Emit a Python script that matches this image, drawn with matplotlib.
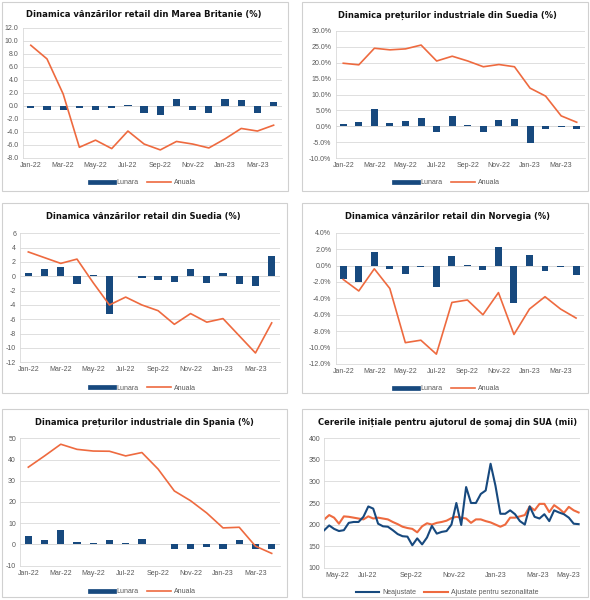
import matplotlib
matplotlib.use("Agg")
import matplotlib.pyplot as plt
from matplotlib.patches import Rectangle
from matplotlib.ticker import FuncFormatter
import numpy as np
import pandas as pd

plt.rcParams['axes.unicode_minus'] = False
plt.rcParams['font.family'] = ['Liberation Sans', 'DejaVu Sans']

# ---------------- data ----------------
months = ["Jan-22", "Feb-22", "Mar-22", "Apr-22", "May-22", "Jun-22", "Jul-22", "Aug-22",
          "Sep-22", "Oct-22", "Nov-22", "Dec-22", "Jan-23", "Feb-23", "Mar-23", "Apr-23"]

uk_monthly = [-0.3, -0.6, -0.7, -0.4, -0.6, -0.3, 0.05, -1.2, -1.4, 1.1, -0.7, -1.1, 1.0, 0.9, -1.1, 0.5]
uk_annual = [9.3, 7.2, 1.8, -6.4, -5.3, -6.6, -3.9, -5.9, -6.8, -5.5, -5.9, -6.5, -5.1, -3.5, -3.9, -3.0]

se_ppi_monthly = [0.7, 1.3, 5.5, 1.1, 1.8, 2.5, -1.6, 3.3, 0.4, -1.6, 2.1, 2.2, -5.3, -0.9, -0.2, -0.8]
se_ppi_annual = [19.8, 19.3, 24.5, 24.0, 24.3, 25.5, 20.5, 22.0, 20.5, 18.7, 19.4, 18.7, 12.0, 9.5, 3.3, 1.3]

se_ret_monthly = [0.4, 1.0, 1.3, -1.1, 0.2, -5.3, 0.0, -0.3, -0.5, -0.8, 1.0, -0.9, 0.4, -1.1, -1.4, 2.8]
se_ret_annual = [3.4, 2.6, 1.8, 2.4, -0.9, -4.0, -2.9, -4.0, -4.8, -6.7, -5.2, -6.4, -5.9, -8.3, -10.7, -6.5]

no_ret_monthly = [-1.6, -2.0, 1.6, -0.4, -1.0, -0.2, -2.6, 1.2, 0.05, -0.5, 2.2, -4.6, 1.3, -0.7, -0.2, -1.2]
no_ret_annual = [-1.7, -3.1, -0.4, -2.8, -9.4, -9.1, -10.8, -4.5, -4.2, -6.0, -3.3, -8.4, -5.3, -3.8, -5.3, -6.4]

es_ppi_monthly = [4.0, 2.2, 6.7, 1.3, 0.7, 2.2, 0.5, 2.7, 0.0, -2.0, -2.0, -1.3, -2.0, 2.0, -2.0, -2.0]
es_ppi_annual = [36.4, 41.7, 47.2, 44.8, 44.0, 43.9, 41.7, 43.3, 35.5, 25.2, 20.6, 14.8, 7.8, 8.1, -0.8, -4.2]

us_start = "2022-04-30"
us_unadjusted = [187, 198, 190, 185, 187, 204, 206, 206, 218, 242, 237, 202, 196, 195, 187, 178,
                 173, 172, 152, 168, 154, 170, 197, 179, 183, 185, 200, 250, 199, 287, 250, 250,
                 271, 279, 341, 290, 225, 225, 233, 224, 208, 200, 242, 218, 214, 224, 208, 233,
                 228, 224, 216, 202, 201]
us_adjusted = [212, 222, 216, 202, 219, 218, 216, 214, 212, 219, 214, 216, 214, 212, 206, 201,
               195, 192, 190, 182, 196, 203, 200, 204, 206, 209, 215, 218, 216, 214, 204, 212,
               212, 208, 205, 200, 195, 200, 216, 216, 219, 222, 242, 233, 248, 248, 229, 245,
               237, 227, 241, 233, 228]

BLUE = '#17497E'
ORANGE = '#EE6A3F'
GRID = '#D9D9D9'
TXT = '#595959'
TICK_FS = 5

W, H = 590, 600
fig = plt.figure(figsize=(W / 100, H / 100), dpi=100)
fig.patch.set_facecolor('white')
renderer = fig.canvas.get_renderer()


def box(x0, y0, x1, y1):
    fig.patches.append(Rectangle((x0 / W, 1 - y1 / H), (x1 - x0) / W, (y1 - y0) / H,
                                 transform=fig.transFigure, fill=False,
                                 edgecolor='#D0D0D0', lw=0.8))


def make_ax(x0, y0, x1, y1):
    ax = fig.add_axes([x0 / W, 1 - y1 / H, (x1 - x0) / W, (y1 - y0) / H])
    ax.set_facecolor('white')
    for s in ['top', 'right']:
        ax.spines[s].set_visible(False)
    for s in ['left', 'bottom']:
        ax.spines[s].set_color(GRID)
        ax.spines[s].set_linewidth(0.6)
    ax.grid(axis='y', color=GRID, lw=0.6)
    ax.set_axisbelow(True)
    ax.tick_params(length=0, labelsize=TICK_FS, labelcolor=TXT, pad=3)
    return ax


def title(text, x0, x1, cy):
    """Title fitted (slightly larger) to the horizontal extent it has in the reference."""
    t = fig.text((x0 + x1) / 2 / W, 1 - cy / H, text, ha='center', va='center', fontsize=9,
                 fontweight='bold', fontstretch='condensed', family=['DejaVu Sans'],
                 color='#111111')
    w = t.get_window_extent(renderer=renderer).width
    t.set_fontsize(9 * 1.08 * (x1 - x0) / w)


def legend(handles, labels, cx, cy):
    fig.legend(handles, labels, loc='center', bbox_to_anchor=(cx / W, 1 - cy / H),
               ncol=2, frameon=False, fontsize=5, handlelength=3.4, columnspacing=1.2,
               handletextpad=0.4, labelcolor=TXT)


def bar_line_panel(rect, monthly, annual, ylim, step, fmt, lcx, lcy):
    ax = make_ax(*rect)
    x = np.arange(len(months))
    ax.bar(x, monthly, width=0.45, color=BLUE, zorder=2)
    ax.plot(x, annual, color=ORANGE, lw=1.2, zorder=3)
    ax.set_xlim(-0.5, len(months) - 0.5)
    ax.set_ylim(*ylim)
    ax.set_yticks(np.arange(ylim[0], ylim[1] + step / 2, step))
    ax.yaxis.set_major_formatter(FuncFormatter(fmt))
    ax.set_xticks(x[::2])
    ax.set_xticklabels(months[::2])
    ax.axhline(0, color=GRID, lw=0.6, zorder=1)
    bh = plt.Line2D([], [], color=BLUE, lw=3.4)
    lh = plt.Line2D([], [], color=ORANGE, lw=1.2)
    legend([bh, lh], ['Lunara', 'Anuala'], lcx, lcy)
    return ax


f1 = lambda v, p: f"{v:.1f}"
fpct = lambda v, p: f"{v:.1f}%"
fint = lambda v, p: f"{v:.0f}"

# panel borders
box(2, 2, 288, 191)
box(302, 2, 588, 191)
box(2, 203, 287, 393)
box(302, 203, 588, 393)
box(2, 409, 287, 597)
box(302, 409, 588, 597)

bar_line_panel((22.7, 27.7, 281.7, 157.7), uk_monthly, uk_annual, (-8, 12), 2, f1, 143, 183)
title("Dinamica vânzărilor retail din Marea Britanie (%)", 35, 252, 15)

bar_line_panel((335.5, 30.7, 584.5, 158.3), se_ppi_monthly, se_ppi_annual, (-10, 30), 5, fpct, 447, 183)
title("Dinamica prețurilor industriale din Suedia (%)", 346, 549, 15)

bar_line_panel((20.2, 233.3, 279.8, 362.3), se_ret_monthly, se_ret_annual, (-12, 6), 2, fint, 143, 388)
title("Dinamica vânzărilor retail din Suedia (%)", 53, 233, 216.7)

bar_line_panel((335.5, 232.7, 583.8, 364), no_ret_monthly, no_ret_annual, (-12, 4), 2, fpct, 447, 389)
title("Dinamica vânzărilor retail din Norvegia (%)", 353, 542, 216.7)

bar_line_panel((20.2, 438.3, 279.8, 565.7), es_ppi_monthly, es_ppi_annual, (-10, 50), 10, fint, 143, 591.5)
title("Dinamica prețurilor industriale din Spania (%)", 43, 245, 422.7)

# US jobless claims
ax6 = make_ax(324.3, 438.3, 580, 567.7)
dates = pd.date_range(us_start, periods=len(us_unadjusted), freq='7D')
ax6.plot(dates, us_unadjusted, color=BLUE, lw=1.5, zorder=3)
ax6.plot(dates, us_adjusted, color=ORANGE, lw=1.5, zorder=2)
ax6.set_xlim(dates[0], dates[-1])
ax6.set_ylim(100, 400)
ax6.set_yticks(np.arange(100, 401, 50))
ax6.yaxis.set_major_formatter(FuncFormatter(fint))
ticks = pd.date_range("2022-05-01", "2023-05-01", freq='2MS')
ax6.set_xticks(ticks)
labels6 = ax6.set_xticklabels([d.strftime('%b-%y') for d in ticks])
labels6[0].set_ha('left')
labels6[-1].set_ha('right')
legend([plt.Line2D([], [], color=BLUE, lw=1.5), plt.Line2D([], [], color=ORANGE, lw=1.5)],
       ['Neajustate', 'Ajustate pentru sezonalitate'], 447, 592.5)
title("Cererile inițiale pentru ajutorul de șomaj din SUA (mii)", 327, 568, 422.7)

fig.savefig("out.png", dpi=100, facecolor='white')
